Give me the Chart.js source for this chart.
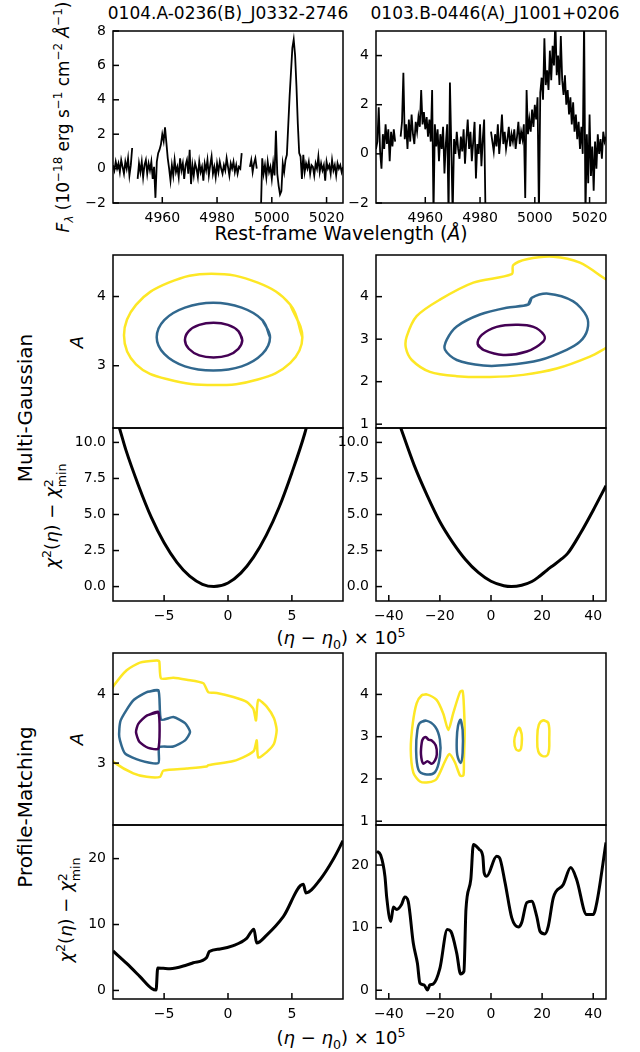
<!DOCTYPE html>
<html>
<head>
<meta charset="utf-8">
<script src="https://cdn.jsdelivr.net/npm/chart.js@4.4.0/dist/chart.umd.min.js"></script>
<style>
html, body { margin: 0; padding: 0; background: #fff; }
#fig { position: relative; width: 640px; height: 1052px; overflow: hidden; font-family: 'DejaVu Sans', sans-serif; color: #000; }
#fig canvas { position: absolute; }
.lbl { position: absolute; white-space: nowrap; transform: translate(-50%, -50%); line-height: 1; }
.rot { transform: translate(-50%, -50%) rotate(-90deg); }
sup, sub { font-size: 0.7em; line-height: 0; }
.stk { display: inline-flex; flex-direction: column; font-size: 0.7em; line-height: 1.05; vertical-align: 0.42em; }
</style>
</head>
<body>
<div id="fig">
  <div class="lbl" style="left:228px;top:13px;font-size:17px">0104.A-0236(B)_J0332-2746</div>
  <div class="lbl" style="left:495px;top:13px;font-size:17px">0103.B-0446(A)_J1001+0206</div>
  <div class="lbl rot" style="left:63px;top:117px;font-size:17px"><i>F</i><sub><i>λ</i></sub> (10<sup>−18</sup> erg s<sup>−1</sup> cm<sup>−2</sup> <i>Å</i><sup>−1</sup>)</div>
  <div class="lbl" style="left:341px;top:234px;font-size:18.7px">Rest-frame Wavelength (<i>Å</i>)</div>
  <div class="lbl rot" style="left:25px;top:408px;font-size:20px">Multi-Gaussian</div>
  <div class="lbl rot" style="left:25px;top:807px;font-size:20px">Profile-Matching</div>
  <div class="lbl rot" style="left:77px;top:342px;font-size:18px"><i>A</i></div>
  <div class="lbl rot" style="left:77px;top:739px;font-size:18px"><i>A</i></div>
  <div class="lbl rot" style="left:55px;top:516px;font-size:18px"><i>χ</i><sup>2</sup>(<i>η</i>) − <i>χ</i><span class="stk"><span>2</span><span>min</span></span></div>
  <div class="lbl rot" style="left:69px;top:910px;font-size:18px"><i>χ</i><sup>2</sup>(<i>η</i>) − <i>χ</i><span class="stk"><span>2</span><span>min</span></span></div>
  <div class="lbl" style="left:341px;top:638px;font-size:18px">(<i>η</i> − <i>η</i><sub>0</sub>) × 10<sup>5</sup></div>
  <div class="lbl" style="left:341px;top:1038px;font-size:18px">(<i>η</i> − <i>η</i><sub>0</sub>) × 10<sup>5</sup></div>
</div>
<script>
// rest-frame wavelength grid of both spectra
const specLam = [
  4942,4942.5,4943,4943.5,4944,4944.5,4945,4945.5,4946,4946.5,
  4947,4947.5,4948,4948.5,4949,4949.5,4950,4950.5,4951,4951.5,
  4952,4952.5,4953,4953.5,4954,4954.5,4955,4955.5,4956,4956.5,
  4957,4957.5,4958,4958.5,4959,4959.5,4960,4960.5,4961,4961.5,
  4962,4962.5,4963,4963.5,4964,4964.5,4965,4965.5,4966,4966.5,
  4967,4967.5,4968,4968.5,4969,4969.5,4970,4970.5,4971,4971.5,
  4972,4972.5,4973,4973.5,4974,4974.5,4975,4975.5,4976,4976.5,
  4977,4977.5,4978,4978.5,4979,4979.5,4980,4980.5,4981,4981.5,
  4982,4982.5,4983,4983.5,4984,4984.5,4985,4985.5,4986,4986.5,
  4987,4987.5,4988,4988.5,4989,4989.5,4990,4990.5,4991,4991.5,
  4992,4992.5,4993,4993.5,4994,4994.5,4995,4995.5,4996,4996.5,
  4997,4997.5,4998,4998.5,4999,4999.5,5000,5000.5,5001,5001.5,
  5002,5002.5,5003,5003.5,5004,5004.5,5005,5005.5,5006,5006.5,
  5007,5007.5,5008,5008.5,5009,5009.5,5010,5010.5,5011,5011.5,
  5012,5012.5,5013,5013.5,5014,5014.5,5015,5015.5,5016,5016.5,
  5017,5017.5,5018,5018.5,5019,5019.5,5020,5020.5,5021,5021.5,
  5022,5022.5,5023,5023.5,5024,5024.5,5025,5025.5,5026
];
// flux, 1e-18 erg/s/cm2/A (null = masked)
const fluxJ0332 = [
  0.2,-0.1,0.4,0.0,0.3,-0.2,0.5,0.1,-0.3,0.4,
  0.0,0.6,-0.4,0.2,1.2,null,null,null,-0.6,0.3,
  -0.2,0.4,-0.5,0.2,0.5,-0.3,0.3,-0.1,0.4,-0.6,
  0.1,-1.7,0.4,0.9,1.1,1.4,2.0,1.6,2.4,1.5,
  0.6,0.0,-0.7,0.2,-0.4,0.5,-0.2,0.1,-0.5,0.6,
  -0.1,0.3,-0.6,0.2,0.5,-0.3,1.1,-0.9,0.2,-0.4,
  0.3,0.0,-0.5,0.4,-0.2,0.1,-0.7,0.3,-0.1,0.5,
  -0.4,0.2,0.7,-0.3,0.1,-0.5,0.3,-0.2,0.4,0.0,
  -0.3,0.2,-0.1,0.6,0.1,-0.4,0.3,0.0,0.4,-0.2,
  0.2,-0.3,0.1,0.0,0.9,null,null,null,null,null,
  0.1,0.5,-0.2,0.3,0.6,0.0,null,null,-2.6,0.6,
  -0.3,0.2,-0.5,0.4,-0.2,0.1,-0.6,0.3,-0.4,2.2,
  -0.3,-1.0,-1.5,-1.3,0.3,-0.2,0.5,0.8,2.5,4.2,
  5.6,7.0,7.5,6.6,4.8,2.6,0.9,0.7,-0.6,0.8,
  -0.2,0.3,0.0,0.4,-0.3,0.2,0.1,-0.4,0.3,0.0,
  0.7,-0.2,0.3,-0.1,0.2,-0.7,0.4,0.0,0.2,-0.3,
  0.5,-0.1,0.2,-0.4,0.3,0.0,0.2,-0.2,0.1
];
const fluxJ1001 = [
  0.2,0.5,1.9,0.1,-0.6,0.8,0.2,1.2,0.4,1.0,
  -0.3,0.9,0.3,1.0,0.5,null,null,null,0.7,1.3,
  3.3,0.6,1.2,0.2,1.4,0.5,1.6,0.8,0.4,1.3,
  0.9,1.5,1.1,2.6,1.2,1.7,1.0,1.5,0.7,1.4,
  0.5,2.6,-2.5,1.2,0.3,1.0,-0.3,0.8,0.2,1.1,
  -0.8,0.4,1.2,-2.5,2.9,0.3,-2.5,0.6,0.0,0.9,
  0.2,-0.2,0.7,0.1,1.0,-0.4,0.6,1.4,0.2,0.9,
  -0.3,0.5,1.3,-1.0,0.4,0.0,1.2,-0.5,0.6,1.4,
  -2.5,null,null,null,0.9,0.5,0.1,0.8,0.3,1.2,
  0.0,0.7,1.6,0.4,0.9,0.2,0.6,1.1,0.3,0.8,
  0.5,1.0,0.2,0.7,1.3,0.4,0.9,0.6,1.2,-1.8,
  2.6,0.8,1.4,0.9,1.8,1.1,2.0,1.4,2.3,-2.5,
  2.5,3.1,2.2,4.7,2.8,3.4,2.6,4.2,3.0,4.4,
  3.6,5.5,3.2,4.0,2.8,4.8,3.0,2.4,3.2,2.0,
  2.6,1.6,2.3,1.2,2.1,0.9,1.6,0.6,1.3,0.2,
  1.1,0.0,5.5,-2.5,0.8,-1.2,1.6,-0.9,0.3,-1.5,
  0.5,-0.6,0.8,0.0,0.6,-0.2,0.9,0.5,0.7
];

// contours [eta*1e5, A]; purple = innermost, blue, yellow = outermost
const mgL_purple = [[1.12,3.37],[0.81,3.50],[-0.01,3.59],[-1.13,3.62],[-2.25,3.59],[-3.07,3.50],[-3.37,3.37],[-3.07,3.245],[-2.25,3.15],[-1.13,3.12],[-0.01,3.15],[0.81,3.245]];
const mgL_blue = [[3.29,3.41],[2.69,3.66],[1.07,3.84],[-1.15,3.91],[-3.37,3.84],[-4.99,3.66],[-5.58,3.41],[-4.99,3.17],[-3.37,2.99],[-1.15,2.93],[1.07,2.99],[2.69,3.17]];
const mgL_yellow = [[5.82,3.41],[4.88,3.88],[2.33,4.20],[-1.3,4.33],[-4.65,4.20],[-7.2,3.88],[-8.14,3.44],[-7.2,3.02],[-4.65,2.80],[-1.1,2.72],[2.33,2.80],[4.88,3.04]];

const mgR_purple = [[-5.2,2.88],[-3.0,2.75],[4.8,2.63],[14.0,2.71],[20.5,2.95],[20.7,3.10],[16.6,3.29],[10.1,3.34],[2.2,3.29],[-3.6,3.10]];
const mgR_blue = [[14.6,3.815],[15.9,3.97],[22.4,4.07],[32.2,3.89],[37.4,3.54],[37.7,3.22],[34.8,2.94],[29.6,2.75],[19.2,2.51],[6.1,2.39],[-3.0,2.38],[-13.4,2.51],[-18.0,2.75],[-17.3,2.99],[-13.4,3.30],[-4.3,3.58],[6.1,3.74]];
const mgR_yellow = [[48,4.3],[44.9,4.41],[34.8,4.80],[24.4,4.94],[14.0,4.88],[8.7,4.74],[8.1,4.53],[-6.9,4.33],[-20,3.93],[-29.1,3.54],[-33.0,3.06],[-33.3,2.79],[-31.0,2.51],[-23.9,2.23],[-13.4,2.13],[-0.4,2.11],[12.6,2.16],[25.7,2.31],[38.7,2.59],[44.9,2.79],[48,2.9]];

const pmL_purple = [[-5.45,3.74],[-6.36,3.69],[-7.02,3.57],[-7.2,3.45],[-6.94,3.31],[-6.24,3.22],[-5.45,3.21]];
const pmL_blue = [[-5.45,4.06],[-6.36,4.03],[-7.41,3.91],[-8.40,3.62],[-8.51,3.38],[-8.06,3.14],[-6.89,3.04],[-5.45,3.00],[-5.38,3.23],[-4.28,3.24],[-3.36,3.33],[-2.97,3.45],[-3.36,3.58],[-4.28,3.67],[-5.24,3.63]];
const pmL_yellow = [[-9.3,4.0],[-8.92,4.13],[-7.93,4.35],[-6.89,4.46],[-5.58,4.49],[-5.38,4.48],[-5.24,4.23],[-4.28,4.24],[-3.23,4.21],[-1.93,4.16],[-1.54,4.03],[-0.88,4.02],[0.42,3.96],[1.46,3.89],[1.98,3.79],[2.19,3.62],[2.37,3.92],[3.03,3.82],[3.6,3.65],[3.81,3.48],[3.6,3.28],[3.03,3.16],[2.37,3.08],[2.25,3.33],[2.03,3.18],[1.46,3.11],[0.42,3.03],[-1.54,2.97],[-1.67,2.95],[-3.23,2.92],[-5.06,2.89],[-5.32,2.80],[-6.36,2.80],[-7.41,2.85],[-8.92,3.01],[-9.3,3.1]];

const pmR_purple = [[-25.4,2.99],[-24.5,2.93],[-23.2,2.91],[-21.6,2.79],[-21.2,2.58],[-21.9,2.44],[-23.2,2.36],[-24.9,2.42],[-26.5,2.36],[-27.4,2.58],[-27.1,2.86],[-26.5,2.96]];
const pmR_blue1 = [[-27.8,3.33],[-25.4,3.38],[-21.9,3.24],[-20.0,2.93],[-20.0,2.53],[-21.9,2.16],[-25.8,2.11],[-28.4,2.22],[-29.3,2.69],[-28.8,3.16]];
const pmR_blue2 = [[-11.9,3.40],[-11.1,3.16],[-11.1,2.62],[-11.9,2.38],[-13.2,2.57],[-13.4,2.93],[-12.9,3.26]];
const pmR_yellow1 = [[-27.1,3.98],[-25.2,4.0],[-21.3,3.87],[-18.7,3.55],[-16.7,3.16],[-14.8,3.55],[-12.1,4.06],[-11.1,4.08],[-10.6,3.71],[-10.3,3.08],[-10.6,2.46],[-10.8,2.08],[-12.1,2.08],[-14.1,2.39],[-16.3,2.59],[-17.9,2.43],[-21.3,2.0],[-24.5,1.92],[-27.8,1.94],[-30.4,2.15],[-31.4,2.70],[-30.6,3.32],[-29.1,3.79]];
const pmR_yellow2 = [[11.1,3.21],[12.0,3.06],[12.0,2.83],[11.4,2.68],[9.8,2.70],[9.1,2.89],[9.8,3.09]];
const pmR_yellow3 = [[20.5,3.39],[22.4,3.33],[22.8,2.96],[22.3,2.58],[20.2,2.54],[18.5,2.65],[18.1,2.96],[18.7,3.28]];

// chi2(eta) - chi2_min, [eta*1e5, value]
const mgL_chi2 = [[-9.0,12.3],[-8.5,11.0],[-8.0,9.5],[-7.0,7.0],[-6.0,4.8],[-5.0,3.04],[-4.0,1.68],[-3.0,0.72],[-2.0,0.16],[-1.1,0.0],[0.0,0.25],[1.0,0.93],[2.0,2.04],[3.0,3.57],[4.0,5.5],[5.0,7.9],[6.0,10.6],[6.5,12.3]];
const mgR_chi2 = [[-40,13.4],[-35.3,11.0],[-30,8.39],[-25,6.33],[-20,4.5],[-15,3.07],[-10,1.88],[-5,0.98],[0,0.37],[5,0.06],[8,0.0],[12,0.09],[16,0.35],[19,0.72],[21.5,1.08],[23,1.3],[25,1.55],[27.5,1.9],[30,2.3],[35,3.7],[40,5.3],[45,7.0]];
const pmL_chi2 = [[-9.0,6.0],[-7.93,4.1],[-6.89,2.1],[-5.97,0.3],[-5.63,0.05],[-5.5,3.4],[-5.06,3.35],[-4.54,3.3],[-3.23,3.86],[-2.72,4.2],[-1.67,5.0],[-1.46,5.9],[-0.62,6.3],[0.42,6.8],[1.46,7.9],[2.03,9.3],[2.24,7.2],[3.03,8.4],[4.33,11.2],[5.89,16.1],[6.1,14.8],[7.2,16.8],[8.24,19.9],[9.0,22.7]];
const pmR_chi2 = [[-44.7,22.2],[-43.2,21.6],[-41.5,18.2],[-40.8,14.8],[-39.2,11.0],[-38.2,13.3],[-36.9,12.9],[-35.0,13.7],[-33.7,14.9],[-32.4,14.2],[-30.4,7.5],[-28.8,4.3],[-27.8,1.1],[-26.2,0.85],[-24.9,0.05],[-23.9,0.85],[-22.6,1.0],[-20.0,3.5],[-17.1,9.7],[-15.7,9.4],[-13.4,5.9],[-11.9,2.6],[-10.6,3.0],[-9.8,12.9],[-7.9,17.7],[-6.9,23.3],[-4.6,22.5],[-3.2,21.4],[-2.7,18.8],[-1.7,18.2],[2.2,21.4],[3.3,21.2],[5.5,17.2],[8.1,11.6],[10.7,10.1],[12.0,10.8],[14.0,14.0],[15.9,14.2],[17.9,11.8],[19.2,9.4],[21.1,9.0],[22.4,10.2],[24.4,14.8],[28.3,16.9],[31.2,19.6],[33.5,17.7],[37.4,12.1],[40.0,12.1],[41.4,14.0],[45.0,23.6]];

// tick values
const lamTicks = [4960, 4980, 5000, 5020];
const fluxTicksL = [-2, 0, 2, 4, 6, 8];
const fluxTicksR = [-2, 0, 2, 4];
const ampTicksL = [3, 4];
const ampTicksR = [1, 2, 3, 4];
const etaTicksL = [-5, 0, 5];
const etaTicksR = [-40, -20, 0, 20, 40];
const mgChiTicks = [0, 2.5, 5, 7.5, 10];
const pmChiTicks = [0, 10, 20];

const PURPLE = '#440154', BLUE = '#31688e', YELLOW = '#fde725';
const TICK_FONT = { family: "'DejaVu Sans', sans-serif", size: 14 };

Chart.defaults.font.family = "'DejaVu Sans', sans-serif";
Chart.defaults.font.size = 14;
Chart.defaults.color = '#000';

const PAD = 10, YW = 52, XH = 30;

const frameTicks = {
  id: 'frameTicks',
  afterDraw(chart) {
    const { ctx, chartArea: a } = chart;
    ctx.save();
    ctx.strokeStyle = '#000';
    ctx.lineWidth = 1.5;
    ctx.strokeRect(a.left, a.top, a.right - a.left, a.bottom - a.top);
    for (const s of Object.values(chart.scales)) {
      if (!s.options.display) continue;
      for (const t of s.ticks) {
        const p = s.getPixelForValue(t.value);
        ctx.beginPath();
        if (s.axis === 'x') { ctx.moveTo(p, a.bottom); ctx.lineTo(p, a.bottom - 6); }
        else { ctx.moveTo(a.left, p); ctx.lineTo(a.left + 6, p); }
        ctx.stroke();
      }
    }
    ctx.restore();
  }
};

function fmt(d) {
  return v => (v < 0 ? '\u2212' : '') + Math.abs(v).toFixed(d);
}

function toXY(pts) { return pts.map(p => ({ x: p[0], y: p[1] })); }
function loop(pts) { return toXY(pts.concat([pts[0], pts[1]])); }

function contour(pts, color, closed, tension) {
  return { data: closed ? loop(pts) : toXY(pts), showLine: true, borderColor: color,
    borderWidth: 2.5, pointRadius: 0, tension: tension };
}
function chiLine(pts) {
  return { data: toXY(pts), showLine: true, borderColor: '#000', borderWidth: 3,
    pointRadius: 0, cubicInterpolationMode: 'monotone' };
}
function specLine(flux) {
  return { data: specLam.map((x, i) => ({ x: x, y: flux[i] })), showLine: true,
    borderColor: '#000', borderWidth: 1.8, pointRadius: 0, tension: 0, spanGaps: false };
}

function panel(p) {
  const xh = p.xTicks ? XH : 0;
  const cv = document.createElement('canvas');
  cv.width = YW + p.w + 2 * PAD;
  cv.height = p.h + xh + 2 * PAD;
  cv.style.left = (p.left - YW - PAD) + 'px';
  cv.style.top = (p.top - PAD) + 'px';
  document.getElementById('fig').appendChild(cv);
  new Chart(cv, {
    type: 'scatter',
    data: { datasets: p.datasets },
    options: {
      responsive: false,
      animation: false,
      events: [],
      layout: { padding: PAD },
      plugins: { legend: { display: false }, tooltip: { enabled: false } },
      scales: {
        x: {
          type: 'linear', min: p.xr[0], max: p.xr[1], display: !!p.xTicks,
          grid: { display: false, drawTicks: false }, border: { display: false },
          afterBuildTicks: s => { s.ticks = (p.xTicks || []).map(v => ({ value: v })); },
          afterFit: s => { s.height = xh; s.paddingLeft = 0; s.paddingRight = 0; },
          ticks: { padding: 7, maxRotation: 0, autoSkip: false, color: '#000', font: TICK_FONT, callback: fmt(0) }
        },
        y: {
          type: 'linear', min: p.yr[0], max: p.yr[1],
          grid: { display: false, drawTicks: false }, border: { display: false },
          afterBuildTicks: s => { s.ticks = p.yTicks.map(v => ({ value: v })); },
          afterFit: s => { s.width = YW; s.paddingTop = 0; s.paddingBottom = 0; },
          ticks: { padding: 7, autoSkip: false, color: '#000', font: TICK_FONT, callback: fmt(p.yDec || 0) }
        }
      }
    },
    plugins: [frameTicks]
  });
}

const LX = 113, RX = 376, W = 230;

// spectra
panel({ left: LX, top: 31, w: W, h: 172, xr: [4942, 5026], yr: [-2, 8], xTicks: lamTicks, yTicks: fluxTicksL,
  datasets: [specLine(fluxJ0332)] });
panel({ left: RX, top: 31, w: W, h: 172, xr: [4942, 5026], yr: [-2, 5], xTicks: lamTicks, yTicks: fluxTicksR,
  datasets: [specLine(fluxJ1001)] });

// multi-gaussian
panel({ left: LX, top: 255, w: W, h: 173, xr: [-9, 9], yr: [2.1, 4.6], yTicks: ampTicksL,
  datasets: [contour(mgL_purple, PURPLE, true, 0.4), contour(mgL_blue, BLUE, true, 0.4), contour(mgL_yellow, YELLOW, true, 0.4)] });
panel({ left: RX, top: 255, w: W, h: 173, xr: [-45, 45], yr: [0.91, 4.98], yTicks: ampTicksR,
  datasets: [contour(mgR_purple, PURPLE, true, 0.4), contour(mgR_blue, BLUE, true, 0.3), contour(mgR_yellow, YELLOW, false, 0.3)] });
panel({ left: LX, top: 428, w: W, h: 173, xr: [-9, 9], yr: [-1, 11], xTicks: etaTicksL, yTicks: mgChiTicks, yDec: 1,
  datasets: [chiLine(mgL_chi2)] });
panel({ left: RX, top: 428, w: W, h: 173, xr: [-45, 45], yr: [-1, 11], xTicks: etaTicksR, yTicks: mgChiTicks, yDec: 1,
  datasets: [chiLine(mgR_chi2)] });

// profile-matching
panel({ left: LX, top: 653, w: W, h: 172, xr: [-9, 9], yr: [2.1, 4.6], yTicks: ampTicksL,
  datasets: [contour(pmL_purple, PURPLE, true, 0.2), contour(pmL_blue, BLUE, true, 0.2), contour(pmL_yellow, YELLOW, false, 0.2)] });
panel({ left: RX, top: 653, w: W, h: 172, xr: [-45, 45], yr: [0.91, 4.98], yTicks: ampTicksR,
  datasets: [contour(pmR_purple, PURPLE, true, 0.3), contour(pmR_blue1, BLUE, true, 0.35), contour(pmR_blue2, BLUE, true, 0.35),
    contour(pmR_yellow1, YELLOW, true, 0.25), contour(pmR_yellow2, YELLOW, true, 0.4), contour(pmR_yellow3, YELLOW, true, 0.4)] });
panel({ left: LX, top: 825, w: W, h: 174, xr: [-9, 9], yr: [-1.3, 25.1], xTicks: etaTicksL, yTicks: pmChiTicks,
  datasets: [chiLine(pmL_chi2)] });
panel({ left: RX, top: 825, w: W, h: 174, xr: [-45, 45], yr: [-1.4, 26.4], xTicks: etaTicksR, yTicks: pmChiTicks,
  datasets: [chiLine(pmR_chi2)] });
</script>
</body>
</html>
